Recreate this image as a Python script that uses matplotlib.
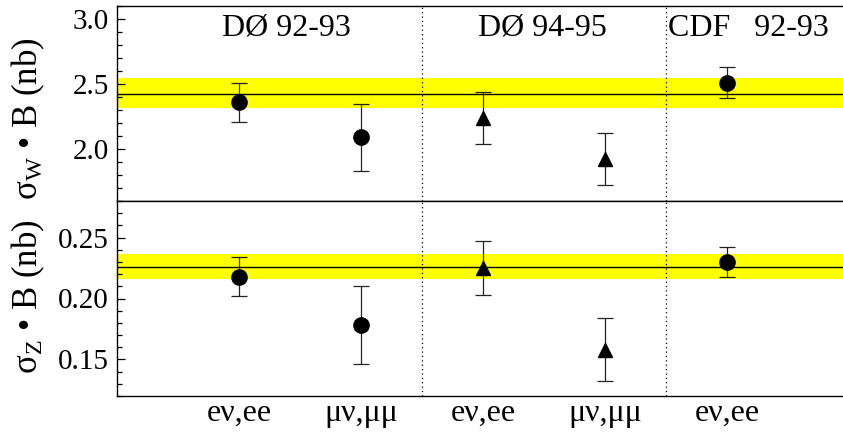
import matplotlib
matplotlib.use("Agg")
import matplotlib.pyplot as plt
from matplotlib.ticker import MultipleLocator, FormatStrFormatter

plt.rcParams['font.family'] = ['Liberation Serif', 'DejaVu Serif']
plt.rcParams['mathtext.fontset'] = 'custom'
plt.rcParams['mathtext.rm'] = 'Liberation Serif'
plt.rcParams['mathtext.it'] = 'Liberation Serif:italic'

# Data
categories = ["e\u03bd,ee", "\u03bc\u03bd,\u03bc\u03bc", "e\u03bd,ee", "\u03bc\u03bd,\u03bc\u03bc", "e\u03bd,ee"]
xpos = [1, 2, 3, 4, 5]
groups = ["D\u00d8 92-93", "D\u00d8 94-95", "CDF   92-93"]

w_vals = [2.36, 2.09, 2.24, 1.92, 2.51]
w_errs = [0.15, 0.26, 0.20, 0.20, 0.12]
z_vals = [0.218, 0.178, 0.225, 0.158, 0.230]
z_errs = [0.016, 0.032, 0.022, 0.026, 0.012]
markers = ["o", "o", "^", "^", "o"]

w_band = (2.318, 2.55)
w_line = 2.42
z_band = (0.2163, 0.2367)
z_line = 0.2255

W, H = 843, 434
fig = plt.figure(figsize=(W / 100, H / 100), dpi=100)
left = 117 / W
width = 6 * 122 / W
ax1 = fig.add_axes([left, 1 - 201 / H, width, 195 / H])
ax2 = fig.add_axes([left, 1 - 396 / H, width, 195 / H])

def draw(ax, vals, errs, band, line):
    ax.axhspan(band[0], band[1], color='#ffff00', lw=0, zorder=1)
    ax.axhline(line, color='black', lw=1.0, zorder=2)
    for x, v, e, m in zip(xpos, vals, errs, markers):
        ax.errorbar(x, v, yerr=e, fmt=m, color='black', ecolor='#222222',
                    elinewidth=0.9, capsize=6, capthick=0.9,
                    markersize=11 if m == 'o' else 10, zorder=4)
    for xv in (2.5, 4.5):
        ax.axvline(xv, color='black', lw=0.9, ls=(0, (1, 2.5)), zorder=3)
    ax.set_xlim(0, 6)
    ax.tick_params(axis='y', which='major', direction='in', length=6, width=0.9,
                   labelsize=21, pad=6)
    ax.tick_params(axis='y', which='minor', direction='in', length=3.5, width=0.9)
    ax.tick_params(axis='x', which='both', length=0)
    for s in ('top', 'left', 'bottom'):
        ax.spines[s].set_linewidth(1.0)

draw(ax1, w_vals, w_errs, w_band, w_line)
ax1.set_ylim(1.6, 3.1)
ax1.yaxis.set_major_locator(MultipleLocator(0.5))
ax1.yaxis.set_minor_locator(MultipleLocator(0.1))
ax1.yaxis.set_major_formatter(FormatStrFormatter('%.1f'))
ax1.set_xticks([])
ax1.spines['right'].set_visible(False)

draw(ax2, z_vals, z_errs, z_band, z_line)
ax2.set_ylim(0.12, 0.28)
ax2.yaxis.set_major_locator(MultipleLocator(0.05))
ax2.yaxis.set_minor_locator(MultipleLocator(0.01))
ax2.yaxis.set_major_formatter(FormatStrFormatter('%.2f'))
ax2.set_xticks(xpos)
ax2.set_xticklabels(categories, fontsize=23)
ax2.tick_params(axis='x', pad=2)
ax2.spines['right'].set_visible(False)

ax1.set_ylabel('$\\mathrm{\u03c3_W}$ \u2022 B (nb)', fontsize=25)
ax2.set_ylabel('$\\mathrm{\u03c3_Z}$ \u2022 B (nb)', fontsize=25)
ax1.yaxis.set_label_coords(-0.095, 0.42)
ax2.yaxis.set_label_coords(-0.095, 0.51)

ax1.text(1.39, 0.885, groups[0], transform=ax1.get_xaxis_transform(),
         ha='center', va='center', fontsize=23)
ax1.text(3.49, 0.885, groups[1], transform=ax1.get_xaxis_transform(),
         ha='center', va='center', fontsize=23)
ax1.text(4.52, 0.885, groups[2], transform=ax1.get_xaxis_transform(),
         ha='left', va='center', fontsize=23)

fig.savefig('out.png', dpi=100)
